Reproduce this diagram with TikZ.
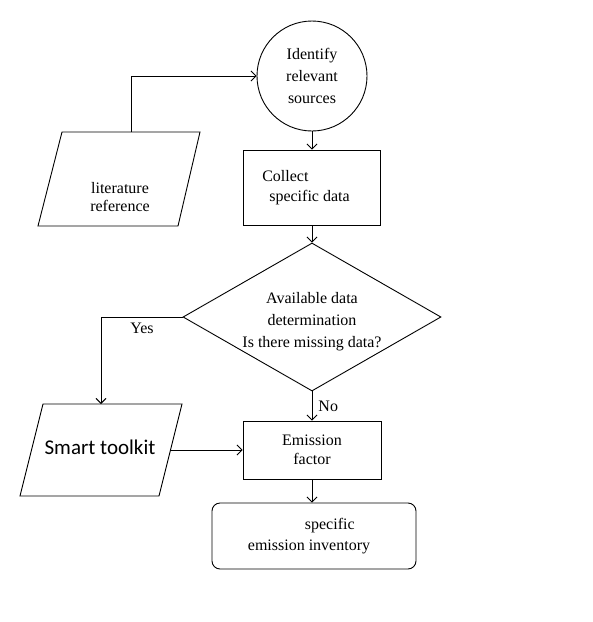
\documentclass[tikz,border=0pt]{standalone}
\usepackage{fontspec}
\setmainfont{Liberation Serif}
\newfontfamily\tms{Liberation Serif}
\newfontfamily\calib{Carlito}
\usetikzlibrary{shapes.geometric,arrows.meta}
\begin{document}
\begin{tikzpicture}[x=1pt,y=-1pt,
  every node/.style={font=\tms\fontsize{16}{20.5}\selectfont, inner sep=0pt},
  ln/.style={line width=0.9pt},
  arr/.style={ln,-{Straight Barb[length=5pt,width=10pt]}},
  boxr/.style={draw,ln,rectangle,align=center},
  outline/.style={draw,ln,line join=miter}
]
\useasboundingbox (0,0) rectangle (593,622);
\fill[white] (0,0) rectangle (593,622);

% circle
\node[draw,ln,circle,minimum size=110pt,align=center,font=\tms\fontsize{16}{22}\selectfont] (circ) at (312,76) {Identify\\relevant\\sources};

% literature reference parallelogram
\coordinate (litTL) at (62,132);
\coordinate (litTR) at (200,132);
\coordinate (litBR) at (178,226);
\coordinate (litBL) at (38,226);
\coordinate (littop) at (131,132);
\draw[outline] (litTL) -- (litTR) -- (litBR) -- (litBL) -- cycle;
\node[align=center,font=\tms\fontsize{16}{18}\selectfont] (lit) at (120,197) {literature\\reference};

% collect box
\node[boxr,align=left,minimum width=137pt,minimum height=75pt] (col) at (312,187.5) {Collect\\\hspace*{7pt}specific data\hspace*{12pt}};

% decision diamond
\node[draw,ln,diamond,aspect=1.74,minimum width=258pt,minimum height=148pt,align=center,font=\tms\fontsize{16}{22}\selectfont] (dia) at (312,317) {\rule{0pt}{20pt}Available data\\determination\\Is there missing data?};

% smart toolkit parallelogram
\coordinate (smTL) at (43,404);
\coordinate (smTR) at (182,404);
\coordinate (smBR) at (159,496);
\coordinate (smBL) at (20,496);
\coordinate (smtop) at (101,404);
\coordinate (smright) at (170.5,450);
\draw[outline] (smTL) -- (smTR) -- (smBR) -- (smBL) -- cycle;
\node[font=\calib\fontsize{21}{24}\selectfont] (smart) at (100,447) {Smart toolkit};

% emission factor
\node[boxr,minimum width=138pt,minimum height=58pt,font=\tms\fontsize{16}{19}\selectfont] (em) at (312,450) {Emission\\factor};

% inventory
\node[draw,ln,rounded corners=8pt,minimum width=204pt,minimum height=66pt,align=left,font=\tms\fontsize{16}{21}\selectfont] (inv) at (314,536) {\hspace*{57pt}specific\\emission inventory\hspace*{10pt}};

% connectors
\draw[arr] (littop) |- (circ.west);
\draw[arr] (circ.south) -- (col.north);
\draw[arr] (col.south) -- (dia.north);
\draw[arr] (dia.west) -| (smtop);
\node (yeslbl) at (142,328) {Yes};
\draw[arr] (dia.south) -- (em.north) node[midway,right=6pt] (no) {No};
\draw[arr] (smright) -- (em.west);
\draw[arr] (em.south) -- (em.south |- inv.north);
\end{tikzpicture}
\end{document}
